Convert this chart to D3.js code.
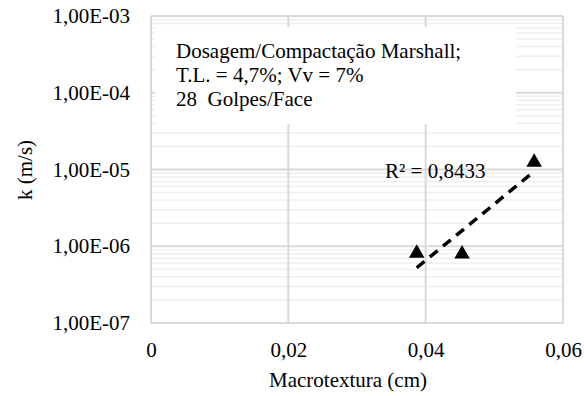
<!DOCTYPE html>
<html>
<head>
<meta charset="utf-8">
<script src="https://cdn.jsdelivr.net/npm/d3@7"></script>
<style>
  body { margin: 0; background: #fff; }
</style>
</head>
<body>
<script>
// data
const macro = [0.0387, 0.0453, 0.0558];
const kvals = [8.1e-7, 7.9e-7, 1.24e-5];
const xTicks = [0, 0.02, 0.04, 0.06];
const yTicks = [1e-7, 1e-6, 1e-5, 1e-4, 1e-3];
const boxLines = ["Dosagem/Compactação Marshall;", "T.L. = 4,7%; Vv = 7%", "28  Golpes/Face"];
const r2Label = "R² = 0,8433";

const W = 584, H = 396;
const m = {left: 151, right: 21, top: 16, bottom: 73};
const FONT = '"Liberation Serif", "Times New Roman", serif';
const FS = 21;

const svg = d3.select("body").append("svg")
    .attr('width', W)
    .attr('height', H)
    .attr('font-family', FONT);

const x = d3.scaleLinear().domain([0, 0.06]).range([m.left, W - m.right]);
const y = d3.scaleLog().domain([1e-7, 1e-3]).range([H - m.bottom, m.top]);

// minor grid
const minors = [];
for (let e = -7; e < -3; e++) for (let i = 2; i <= 9; i++) minors.push(i * Math.pow(10, e));
svg.append('g').selectAll('line')
    .data(minors)
    .enter()
    .append('line')
    .attr('x1', m.left).attr('x2', W - m.right)
    .attr('y1', d => y(d)).attr('y2', d => y(d))
    .style('stroke', '#efefef')
    .style('stroke-width', 1.5);

// major grid
svg.append('g').selectAll('line')
    .data(yTicks)
    .enter()
    .append('line')
    .attr('x1', m.left).attr('x2', W - m.right)
    .attr('y1', d => y(d)).attr('y2', d => y(d))
    .style('stroke', '#d9d9d9')
    .style('stroke-width', 2);
svg.append('g').selectAll('line')
    .data(xTicks)
    .enter()
    .append('line')
    .attr('x1', d => x(d)).attr('x2', d => x(d))
    .attr('y1', m.top).attr('y2', H - m.bottom)
    .style('stroke', '#d9d9d9')
    .style('stroke-width', 2);

// axes labels
const yAxis = svg.append('g')
    .attr('transform', `translate(${m.left - 18},0)`)
    .call(d3.axisLeft(y).tickValues(yTicks).tickSize(0)
        .tickFormat(d => "1,00E-0" + Math.round(-Math.log10(d))));
yAxis.attr('font-family', FONT).attr('font-size', FS);
yAxis.select('.domain').remove();
yAxis.selectAll('text').attr('fill', '#000');

const xAxis = svg.append('g')
    .attr('transform', `translate(0,${H - m.bottom + 16})`)
    .call(d3.axisBottom(x).tickValues(xTicks).tickSize(0)
        .tickFormat(d => d === 0 ? "0" : d3.format(".2f")(d).replace('.', ',')));
xAxis.attr('font-family', FONT).attr('font-size', FS);
xAxis.select('.domain').remove();
xAxis.selectAll('text').attr('fill', '#000');

svg.append('text')
    .attr('x', 348).attr('y', 387)
    .attr('text-anchor', 'middle')
    .attr('font-size', FS)
    .text('Macrotextura (cm)');
svg.append('text')
    .attr('transform', 'translate(32,170) rotate(-90)')
    .attr('text-anchor', 'middle')
    .attr('font-size', FS)
    .text('k (m/s)');

// annotation box
svg.append('rect')
    .attr('x', 155).attr('y', 27)
    .attr('width', 361).attr('height', 97)
    .style('fill', '#fff');
svg.append('g').selectAll('text')
    .data(boxLines)
    .enter()
    .append('text')
    .attr('x', 176)
    .attr('y', (d, i) => 58 + i * 24)
    .attr('font-size', FS)
    .style('white-space', 'pre')
    .text(d => d);

// exponential trendline (least squares on ln k)
const lk = kvals.map(Math.log);
const mx = d3.mean(macro), my = d3.mean(lk);
const sxy = d3.sum(macro, (d, i) => (d - mx) * (lk[i] - my));
const sxx = d3.sum(macro, d => (d - mx) * (d - mx));
const b = sxy / sxx, a = my - b * mx;
const tx = d3.extent(macro);
svg.append('line')
    .attr('x1', x(tx[0])).attr('y1', y(Math.exp(a + b * tx[0])))
    .attr('x2', x(tx[1])).attr('y2', y(Math.exp(a + b * tx[1])))
    .style('stroke', '#000')
    .style('stroke-width', 3.5)
    .style('stroke-dasharray', '10,7');

// points
svg.append('g').selectAll('path')
    .data(macro)
    .enter()
    .append('path')
    .attr('d', d3.symbol().type(d3.symbolTriangle).size(105))
    .attr('transform', (d, i) => `translate(${x(d)},${y(kvals[i])})`)
    .style('fill', '#000');

svg.append('text')
    .attr('x', 385).attr('y', 178)
    .attr('font-size', FS)
    .text(r2Label);
</script>
</body>
</html>
